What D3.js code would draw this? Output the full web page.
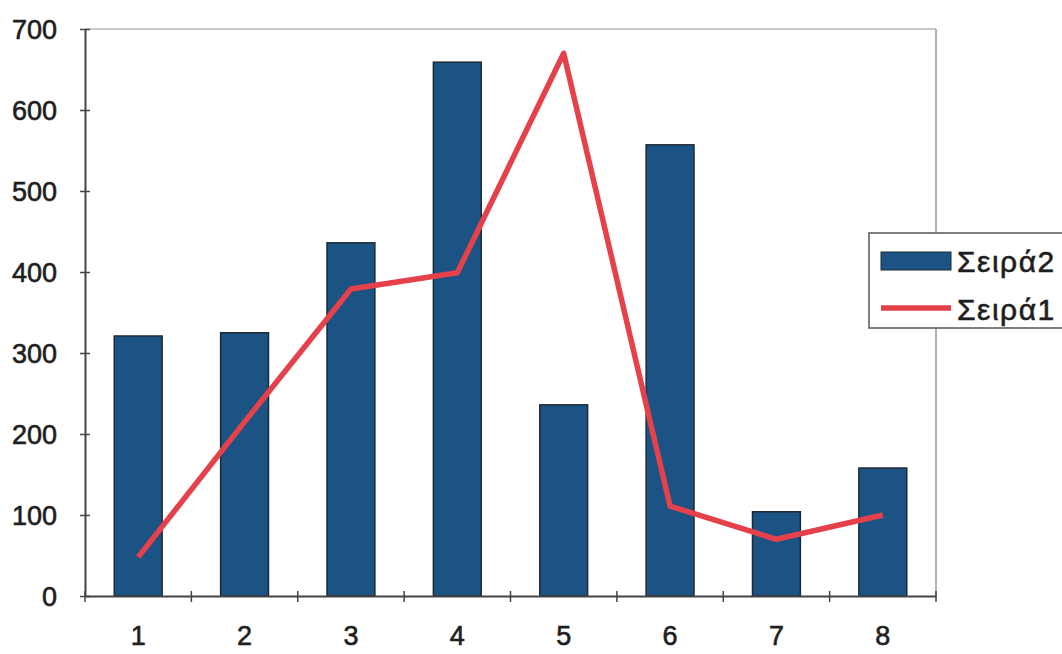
<!DOCTYPE html>
<html>
<head>
<meta charset="utf-8">
<script src="https://cdn.jsdelivr.net/npm/d3@7"></script>
<style>
  html, body { margin: 0; padding: 0; background: #ffffff; }
  svg { display: block; }
  text { font-family: "Liberation Sans", Arial, sans-serif; fill: #1e1e1e; stroke: #1e1e1e; stroke-width: 0.6px; }
</style>
</head>
<body>
<svg id="chart" width="1062" height="654"></svg>
<script>
const categories = ["1", "2", "3", "4", "5", "6", "7", "8"];
const seira2 = [321, 325, 436, 659, 236, 557, 104, 158];
const seira1 = [48, 215, 379, 399, 670, 111, 70, 100];
const yTicks = [0, 100, 200, 300, 400, 500, 600, 700];
const seriesNames = ["Σειρά2", "Σειρά1"];

const svg = d3.select("#chart");
const pL = 85, pR = 936, pT = 29, pB = 596;

const x = d3.scaleBand().domain(categories).range([pL, pR]).paddingInner(0.55).paddingOuter(0.275);
const xb = d3.scaleBand().domain(categories).range([pL, pR]);
const y = d3.scaleLinear().domain([0, 700]).range([pB, pT]);

// plot area frame (light)
svg.append("line").attr("x1", pL).attr("x2", pR).attr("y1", pT).attr("y2", pT)
  .attr("stroke", "#b8b8b8").attr("stroke-width", 1.5);
svg.append("line").attr("x1", pR).attr("x2", pR).attr("y1", pT).attr("y2", pB)
  .attr("stroke", "#9a9a9a").attr("stroke-width", 1.5);

// bars
svg.append("g").selectAll("rect").data(seira2).join("rect")
  .attr("x", (d, i) => x(categories[i]))
  .attr("width", x.bandwidth())
  .attr("y", d => y(d))
  .attr("height", d => y(0) - y(d))
  .attr("fill", "#1a5384")
  .attr("stroke", "#1b2a33")
  .attr("stroke-width", 1.5);

// y axis
const yAxis = d3.axisLeft(y).tickValues(yTicks).tickSize(0).tickPadding(28);
const gy = svg.append("g").attr("transform", `translate(${pL},0)`).call(yAxis);
gy.select(".domain").attr("stroke", "#444").attr("stroke-width", 2);
gy.selectAll("text").attr("font-size", 27).attr("fill", "#1e1e1e").attr("dy", "0.36em");
gy.selectAll(".tick").append("line").attr("x1", -5).attr("x2", 5).attr("stroke", "#444").attr("stroke-width", 1.5);

// x axis
const xAxis = d3.axisBottom(xb).tickSize(0).tickPadding(30);
const gx = svg.append("g").attr("transform", `translate(0,${pB})`).call(xAxis);
gx.select(".domain").attr("stroke", "#444").attr("stroke-width", 2);
gx.selectAll("text").attr("font-size", 27).attr("fill", "#1e1e1e");
const boundaries = categories.map(c => xb(c)).concat([pR]);
gx.selectAll(".bnd").data(boundaries).join("line").attr("class", "bnd")
  .attr("x1", d => d).attr("x2", d => d).attr("y1", -5).attr("y2", 6)
  .attr("stroke", "#444").attr("stroke-width", 1.5);

// line
const line = d3.line().x((d, i) => xb(categories[i]) + xb.bandwidth() / 2).y(d => y(d));
svg.append("path").datum(seira1).attr("d", line)
  .attr("fill", "none").attr("stroke", "#e5414b").attr("stroke-width", 5.5)
  .attr("stroke-linejoin", "round");

// legend
const lg = svg.append("g");
lg.append("rect").attr("x", 869).attr("y", 233).attr("width", 200).attr("height", 95)
  .attr("fill", "#ffffff").attr("stroke", "#555").attr("stroke-width", 1.5);
lg.append("rect").attr("x", 881).attr("y", 252).attr("width", 70).attr("height", 18)
  .attr("fill", "#1a5384").attr("stroke", "#1b2a33").attr("stroke-width", 1);
lg.append("line").attr("x1", 881).attr("x2", 951).attr("y1", 308).attr("y2", 308)
  .attr("stroke", "#e5414b").attr("stroke-width", 5.5);
lg.selectAll("text.lt").data(seriesNames).join("text").attr("class", "lt")
  .attr("x", 957).attr("y", (d, i) => 261 + i * 48)
  .attr("dy", "0.36em").attr("font-size", 30).attr("letter-spacing", 1.5).text(d => d);
</script>
</body>
</html>
